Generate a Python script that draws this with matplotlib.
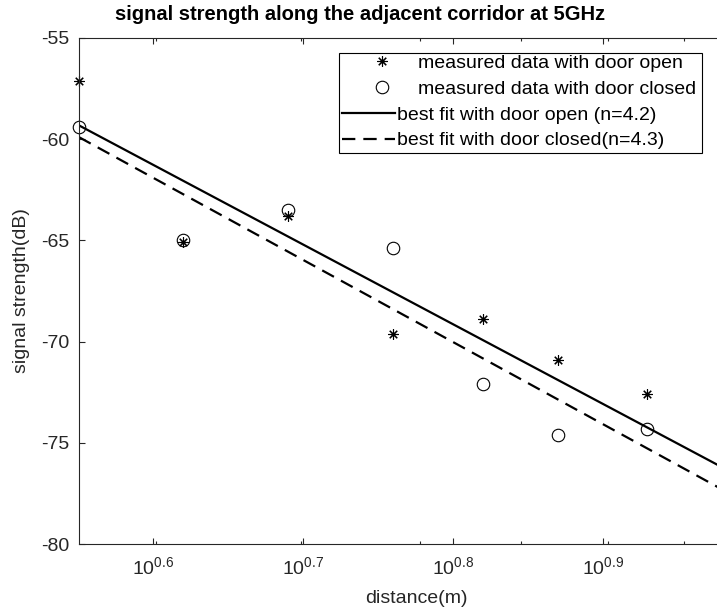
import numpy as np
import matplotlib
matplotlib.use("Agg")
import matplotlib.pyplot as plt
from matplotlib.patches import Rectangle
from matplotlib.ticker import FixedLocator, FixedFormatter, NullFormatter

# ---------------- data ----------------
distance_m = [3.554, 4.169, 4.898, 5.754, 6.607, 7.413, 8.50]
open_db = [-57.1, -65.1, -63.8, -69.6, -68.9, -70.9, -72.6]
closed_db = [-59.4, -65.0, -63.5, -65.4, -72.1, -74.6, -74.3]
open_fit = (-37.62, 39.4)     # (dB at 1 m, dB per decade)
closed_fit = (-37.54, 40.6)
xtick_exponents = [0.6, 0.7, 0.8, 0.9]
xminor_ticks = [4, 5, 6, 7, 8, 9]
yticks = [-80, -75, -70, -65, -60, -55]
series_labels = ["measured data with door open", "measured data with door closed",
                 "best fit with door open (n=4.2)", "best fit with door closed(n=4.3)"]
title = "signal strength along the adjacent corridor at 5GHz"
xlabel = "distance(m)"
ylabel = "signal strength(dB)"

# ---------------- style ----------------
plt.rcParams["font.family"] = ["Liberation Sans", "DejaVu Sans"]
plt.rcParams["mathtext.fontset"] = "custom"
plt.rcParams["mathtext.rm"] = "Liberation Sans"
plt.rcParams["mathtext.it"] = "Liberation Sans:italic"
plt.rcParams["mathtext.bf"] = "Liberation Sans:bold"
FS = 14
AX = "#262626"

W, H = 717, 614
fig = plt.figure(figsize=(W / 100, H / 100), dpi=100)
ax = fig.add_axes([79 / W, 70 / H, 674 / W, 506 / H])

xmin, xmax = distance_m[0], 10.0
d_fit = np.logspace(np.log10(xmin), np.log10(xmax), 100)
y_open_fit = open_fit[0] - open_fit[1] * np.log10(d_fit)
y_closed_fit = closed_fit[0] - closed_fit[1] * np.log10(d_fit)

star = (8, 2, 0)
h1, = ax.plot(distance_m, open_db, linestyle="none", marker=star, markersize=7.5,
              markeredgewidth=0.8, color="black", clip_on=False)
h2, = ax.plot(distance_m, closed_db, linestyle="none", marker="o", markersize=9,
              markerfacecolor="none", markeredgewidth=0.8, color="black", clip_on=False)
h3, = ax.plot(d_fit, y_open_fit, "-", color="black", lw=1.6)
h4, = ax.plot(d_fit, y_closed_fit, color="black", lw=1.6, linestyle=(0, (6, 3.6)))

ax.set_xscale("log")
ax.set_xlim(xmin, xmax)
ax.set_ylim(-80, -55)
ax.xaxis.set_major_locator(FixedLocator([10 ** e for e in xtick_exponents]))
ax.xaxis.set_major_formatter(FixedFormatter([r"$\mathregular{10^{%g}}$" % e for e in xtick_exponents]))
ax.xaxis.set_minor_locator(FixedLocator(xminor_ticks))
ax.xaxis.set_minor_formatter(NullFormatter())
ax.set_yticks(yticks)
ax.set_yticklabels([str(v) for v in yticks])

ax.tick_params(which="both", direction="in", top=True, right=True, colors=AX,
               labelcolor=AX, labelsize=FS, width=0.8)
ax.tick_params(which="major", length=4.5)
ax.tick_params(which="minor", length=2.3)
ax.tick_params(axis="x", which="major", pad=9)
ax.tick_params(axis="y", which="major", pad=7)
for s in ax.spines.values():
    s.set_color(AX)
    s.set_linewidth(0.8)

t = ax.set_title(title, fontsize=FS + 0.5, fontweight="bold", pad=13, color="black")
t.set_x(0.417)
ax.set_xlabel(xlabel, fontsize=FS, color=AX, labelpad=8)
ax.set_ylabel(ylabel, fontsize=FS, color=AX, labelpad=8)

# ---------------- legend (two stacked legends inside one frame) ----------------
fpx = FS * 100 / 72.0
leg1 = ax.legend([h1, h2], series_labels[:2], loc="upper left",
                 bbox_to_anchor=(361.7 / W, 1 - 54.5 / H), bbox_transform=fig.transFigure,
                 frameon=False, borderpad=0, borderaxespad=0, handlelength=40 / fpx,
                 handletextpad=0.85, labelspacing=0.42, fontsize=FS)
ax.add_artist(leg1)
leg2 = ax.legend([h3, h4], series_labels[2:], loc="upper left",
                 bbox_to_anchor=(341.7 / W, 1 - 106 / H), bbox_transform=fig.transFigure,
                 frameon=False, borderpad=0, borderaxespad=0, handlelength=53 / fpx,
                 handletextpad=0.1, labelspacing=0.42, fontsize=FS)
fig.patches.append(Rectangle((339 / W, 1 - 153 / H), (702 - 339) / W, (153 - 53) / H,
                             transform=fig.transFigure, fill=True, facecolor="none",
                             edgecolor="black", lw=0.8, zorder=5))

fig.savefig("out.png", dpi=100, facecolor="white")
